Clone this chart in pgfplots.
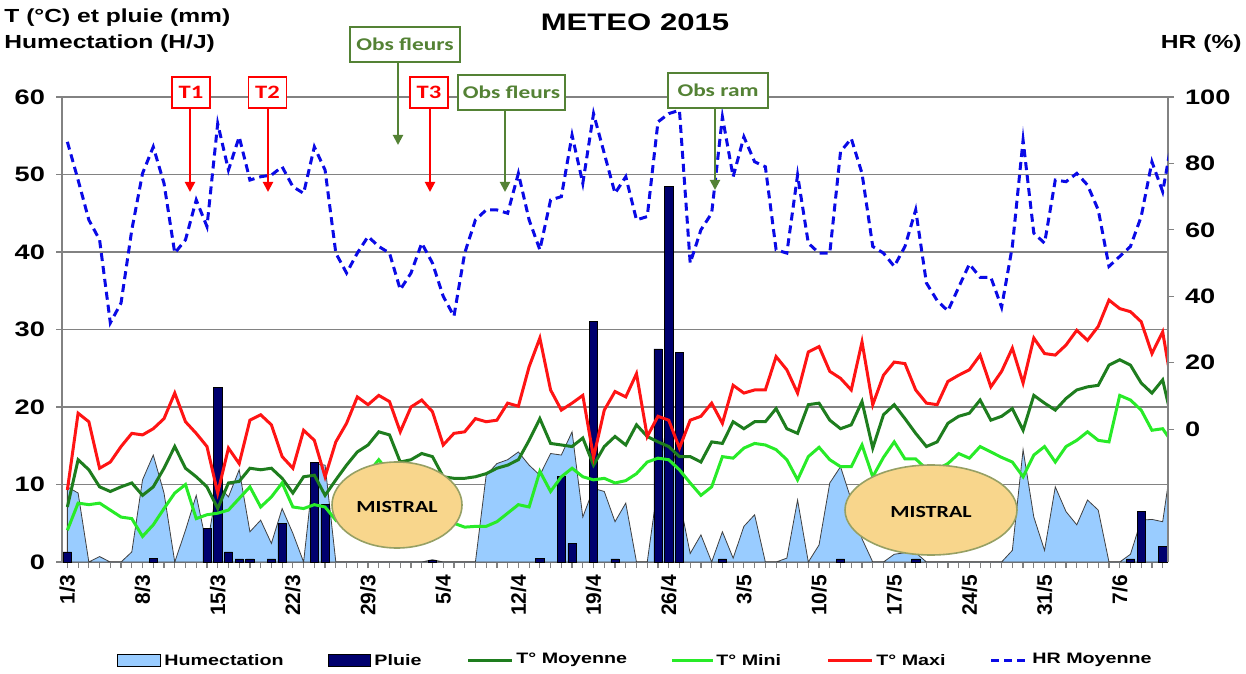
\documentclass[border=0pt]{standalone}
\usepackage{fontspec}
\setmainfont{Liberation Sans}[FakeStretch=1.3]
\newfontfamily\xfont{Liberation Sans}
\newfontfamily\calfont{Carlito}[FakeStretch=1.3]
\usepackage{pgfplots}
\pgfplotsset{compat=1.18}
\usepackage{pgfplotstable}
\usetikzlibrary{arrows.meta}

\definecolor{humfill}{RGB}{153,204,255}
\definecolor{pluie}{RGB}{0,0,110}
\definecolor{tmoy}{RGB}{30,125,30}
\definecolor{tmin}{RGB}{40,235,40}
\definecolor{tmax}{RGB}{255,20,20}
\definecolor{hr}{RGB}{10,10,230}
\definecolor{obsgreen}{RGB}{84,130,53}
\definecolor{mistral}{RGB}{248,214,140}
\definecolor{mistraledge}{RGB}{150,160,100}
\definecolor{gridgray}{RGB}{130,130,130}

% day 0 = 1/3/2015
\pgfplotstableread{
d hum tmoy tmin tmax hr
0 9.7 7.1 4.1 9.3 86.5
1 8.9 13.2 7.6 19.2 75
2 0 11.9 7.4 18.1 63
3 0.7 9.7 7.6 12.1 57
4 0 9.1 6.7 12.9 32
5 0 9.7 5.8 14.9 38
6 1.3 10.2 5.6 16.6 60
7 10.6 8.6 3.3 16.4 77
8 13.8 9.7 4.8 17.2 85
9 8.9 12.1 6.9 18.5 74
10 0 14.9 8.9 21.8 53
11 4.1 12.1 10.0 18.1 57
12 8.6 11.0 5.6 16.6 69
13 2.0 9.7 6.1 14.9 61
14 10.0 6.9 6.3 8.9 92
15 8.4 10.2 6.7 14.7 78
16 11.9 10.4 8.2 12.7 88
17 3.9 12.1 9.7 18.3 75
18 5.4 11.9 7.1 19.0 76
19 2.4 12.1 8.4 17.7 76.5
20 6.9 10.8 10.2 13.6 79
21 3.7 8.9 7.1 12.1 73
22 0 11.0 6.9 17.0 71
23 12.7 11.2 7.4 15.7 85
24 12.5 8.6 7.1 11.0 78
25 0 10.6 5.4 15.5 53
26 0 12.5 7.0 17.9 47
27 0 14.2 10.0 21.3 53
28 0 15.1 11.5 20.3 58
29 0 16.8 13.2 21.5 55
30 0 16.4 11.5 20.7 53
31 0 12.9 10.0 16.8 42
32 0 13.2 9.0 20.0 47
33 0 14.0 8.0 20.9 56
34 0.3 13.6 7.0 19.4 50
35 0 11.0 6.0 15.1 40
36 0 10.8 5.0 16.6 34
37 0 10.8 4.5 16.8 53
38 0 11.0 4.6 18.5 63
39 11.2 11.4 4.6 18.1 66
40 12.7 12.1 5.2 18.3 66
41 13.2 12.5 6.3 20.5 65
42 14.2 13.2 7.4 20.1 77
43 12.5 15.7 7.1 25.2 63
44 11.2 18.5 11.7 28.9 54
45 14.0 15.3 9.1 22.2 69
46 13.8 15.1 11.0 19.6 70
47 16.8 14.9 12.1 20.5 88.5
48 5.8 16.0 11.0 21.5 74
49 9.5 12.5 10.6 13.5 95
50 9.1 14.9 10.8 19.6 83
51 5.2 16.2 10.2 22.0 71
52 7.6 15.1 10.5 21.3 76
53 0 17.7 11.4 24.3 63
54 0 16.2 12.9 16.2 64
55 10 15.5 13.4 18.8 92.5
56 20 14.9 13.2 18.3 95
57 8 13.6 11.9 14.7 96
58 1.1 13.6 10.2 18.3 50
59 3.5 12.9 8.6 18.8 60
60 0 15.5 9.7 20.5 65
61 3.9 15.3 13.6 17.9 94
62 0.5 18.1 13.4 22.8 76
63 4.6 17.2 14.7 21.8 88
64 6.1 18.1 15.3 22.2 80.5
65 0 18.1 15.1 22.2 79
66 0 19.8 14.5 26.5 54
67 0.5 17.2 13.2 24.8 53
68 8.0 16.6 10.6 21.8 76.5
69 0 20.3 13.6 27.1 56
70 2.2 20.5 14.8 27.8 53
71 10.2 18.3 13.2 24.6 53
72 12.3 17.2 12.3 23.7 83.5
73 8.0 17.7 12.3 22.2 87.5
74 3.0 20.7 15.1 28.4 77
75 0 14.7 11.0 20.3 55
76 0 19.0 13.5 24.1 53
77 1.0 20.3 15.5 25.8 49
78 1.2 18.5 13.3 25.6 55
79 1.2 16.6 13.3 22.2 66
80 0 14.9 12.0 20.5 44
81 0 15.5 12.0 20.3 38.7
82 0 17.9 12.7 23.3 35.6
83 0 18.8 14.0 24.1 42.7
84 0 19.2 13.4 24.8 49.7
85 0 20.9 14.9 26.7 45.7
86 0 18.3 14.2 22.6 45.7
87 0 18.8 13.5 24.6 36.7
88 1.5 19.8 12.9 27.6 55
89 14.5 17.0 11.0 23.1 87
90 5.8 21.5 13.8 28.9 59
91 1.5 20.5 14.9 26.9 56
92 9.7 19.6 12.9 26.7 75
93 6.5 21.1 14.9 28.0 74.5
94 4.8 22.2 15.7 29.9 77
95 8.0 22.6 16.8 28.6 73.5
96 6.7 22.8 15.7 30.4 66
97 0 25.4 15.5 33.8 49
98 0 26.1 21.5 32.7 52
99 1.0 25.4 20.9 32.3 55
100 5.4 23.1 19.6 31.0 64
101 5.5 21.8 17.0 26.9 80.5
102 5.2 23.5 17.2 29.7 71.5
103 14.7 17.5 15.2 21.5 89.5
}\meteo

\pgfplotstableread{
d p
0 1.3
8 0.5
13 4.3
14 22.5
15 1.3
16 0.4
17 0.4
19 0.4
20 5.0
23 12.9
24 7.4
34 0.2
44 0.5
46 11.0
47 2.4
49 31.0
51 0.4
55 27.5
56 48.5
57 27.0
61 0.4
72 0.4
79 0.4
99 0.4
100 6.5
102 2.0
}\pluie

\begin{document}
\begin{tikzpicture}
\begin{axis}[name=main, scale only axis, width=553bp, height=232.5bp,
  xmin=-0.5, xmax=102.5, ymin=0, ymax=60,
  axis x line*=bottom, axis y line*=left,
  axis line style={gridgray, line width=0.8bp},
  ytick={0,10,...,60}, ymajorgrids, grid style={gridgray, line width=0.8bp},
  xtick={0,7,...,98},
  xticklabels={1/3,8/3,15/3,22/3,29/3,5/4,12/4,19/4,26/4,3/5,10/5,17/5,24/5,31/5,7/6},
  minor xtick={0,1,...,102},
  tick align=outside, major tick length=3bp, minor tick length=3bp,
  tick style={gridgray, line width=0.6bp},
  /pgf/number format/assume math mode=true,
  yticklabel style={font=\bfseries\fontsize{10.5}{12}\selectfont, xshift=-2bp},
  xticklabel style={rotate=90, anchor=east, font=\xfont\bfseries\fontsize{10.5}{12}\selectfont},
]
\addplot[fill=humfill, draw=black!75, line width=0.4bp] table[x=d, y=hum] {\meteo} \closedcycle;
\addplot[ybar, bar width=4.15bp, fill=pluie, draw=black, line width=0.3bp] table[x=d, y=p] {\pluie};
\addplot[tmoy, line width=1.5bp] table[x=d, y=tmoy] {\meteo};
\addplot[tmin, line width=1.5bp] table[x=d, y=tmin] {\meteo};
\addplot[tmax, line width=1.5bp] table[x=d, y=tmax] {\meteo};
\end{axis}

\begin{axis}[scale only axis, width=553bp, height=232.5bp,
  xmin=-0.5, xmax=102.5, ymin=-40, ymax=100,
  axis y line*=right, axis x line=none,
  axis line style={gridgray, line width=0.8bp},
  ytick={0,20,...,100},
  tick align=outside, major tick length=3bp,
  tick style={gridgray, line width=0.6bp},
  /pgf/number format/assume math mode=true,
  yticklabel style={font=\bfseries\fontsize{10.5}{12}\selectfont, xshift=2bp},
]
\addplot[hr, line width=1.5bp, dash pattern=on 4bp off 2.5bp] table[x=d, y=hr] {\meteo};
\end{axis}

% annotations, in pixel units of the reference (origin top left)
\begin{scope}[shift={(main.south west)}, xshift=-31bp, yshift=281bp, x=0.5bp, y=-0.5bp]
\path (0,0) rectangle (1246,673);
\node[inner sep=0, font=\bfseries\fontsize{12}{14}\selectfont] at (635,22) {METEO 2015};
\node[inner sep=0, anchor=west, font=\bfseries\fontsize{9.5}{11}\selectfont] at (4,18) {T (°C) et pluie (mm)};
\node[inner sep=0, anchor=west, font=\bfseries\fontsize{9.5}{11}\selectfont] at (4,44) {Humectation (H/J)};
\node[inner sep=0, anchor=east, font=\bfseries\fontsize{9.5}{11}\selectfont] at (1242,44) {HR (\%)};

\draw[fill=mistral, draw=mistraledge, line width=0.8bp] (397,505) ellipse [x radius=32.5bp, y radius=21.5bp];
\node[font=\calfont\bfseries\fontsize{8.5}{10}\selectfont] at (397,507) {MISTRAL};
\draw[fill=mistral, draw=mistraledge, line width=0.8bp] (931,510) ellipse [x radius=43bp, y radius=22.5bp];
\node[font=\calfont\bfseries\fontsize{8.5}{10}\selectfont] at (931,512) {MISTRAL};

\tikzset{tbox/.style={draw=red, fill=white, text=red, line width=0.8bp, inner sep=0,
    minimum width=19bp, minimum height=15.5bp, font=\calfont\bfseries\fontsize{9.5}{11}\selectfont},
  obox/.style={draw=obsgreen, fill=white, text=obsgreen, line width=0.8bp, inner sep=0,
    minimum height=17.5bp, font=\calfont\bfseries\fontsize{9}{11}\selectfont},
  tarr/.style={red, line width=1bp, -{Triangle[width=5bp,length=5bp]}},
  oarr/.style={obsgreen, line width=1bp, -{Triangle[width=5bp,length=5bp]}}}
\node[tbox] at (191,92.5) {T1};
\draw[tarr] (190,108) -- (190,192);
\node[tbox] at (267.5,92.5) {T2};
\draw[tarr] (268,108) -- (268,192);
\node[tbox] at (429,92.5) {T3};
\draw[tarr] (430,108) -- (430,192);
\node[obox, minimum width=55bp] at (405,44.5) {Obs fleurs};
\draw[oarr] (398,62) -- (398,145);
\node[obox, minimum width=53.5bp] at (511.5,92.5) {Obs fleurs};
\draw[oarr] (505,110) -- (505,192);
\node[obox, minimum width=50bp] at (718,90.5) {Obs ram};
\draw[oarr] (715,108) -- (715,190);

% legend
\tikzset{leg/.style={inner sep=0, anchor=west, font=\bfseries\fontsize{7.6}{9}\selectfont}}
\filldraw[fill=humfill, draw=black, line width=0.5bp] (117,654) rectangle (160,666);
\node[leg] at (164,660) {Humectation};
\filldraw[fill=pluie, draw=black, line width=0.5bp] (328,654) rectangle (370,666);
\node[leg] at (374,660) {Pluie};
\draw[tmoy, line width=1.5bp] (468,660) -- (512,660);
\node[leg] at (516,660) {T° Moyenne};
\draw[tmin, line width=1.5bp] (672,660) -- (713,660);
\node[leg] at (716,660) {T° Mini};
\draw[tmax, line width=1.5bp] (828,660) -- (872,660);
\node[leg] at (876,660) {T° Maxi};
\draw[hr, line width=1.5bp, dash pattern=on 4bp off 2.5bp] (991,660) -- (1029,660);
\node[leg] at (1032,660) {HR Moyenne};
\end{scope}
\end{tikzpicture}
\end{document}
